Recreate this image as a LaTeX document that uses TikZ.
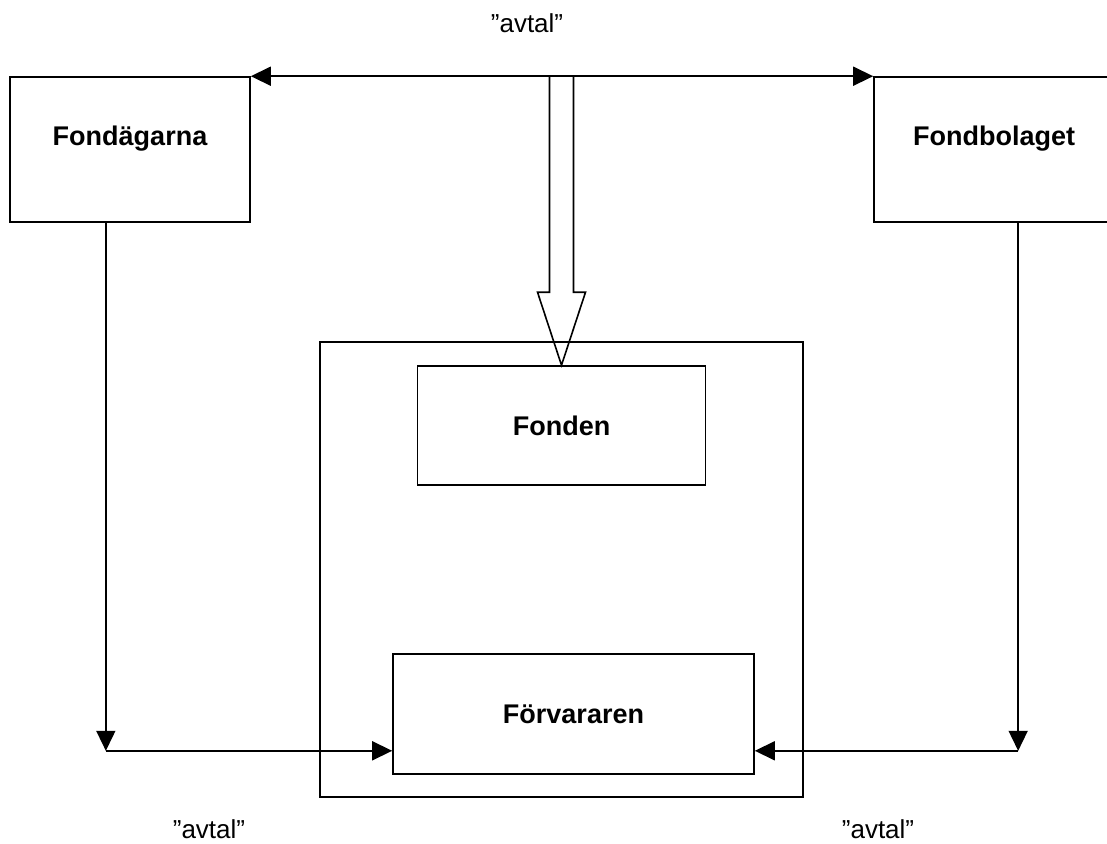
\documentclass[tikz,border=0pt]{standalone}
\usepackage{fontspec}
\setmainfont{Liberation Sans}
\usetikzlibrary{arrows.meta,calc}

\begin{document}
\begin{tikzpicture}[x=1pt,y=-1pt,line width=1.6pt]
\tikzstyle{every node}=[font=\fontsize{26}{30}\selectfont]
\tikzstyle{box}=[draw,inner sep=0pt,text height=19pt,text depth=0pt,font=\fontsize{27}{31}\selectfont\bfseries]
\tikzstyle{topbox}=[box,text depth=28pt,minimum width=240,minimum height=145]
\tikzstyle{tip}=[-{Triangle[length=20pt,width=19pt]}]

\useasboundingbox (0,0) rectangle (1107,843);
\clip (0,0) rectangle (1107,843);

\node[topbox] (Fondagarna) at (130,149.5) {Fondägarna};
\node[topbox] (Fondbolaget) at (994,149.5) {Fondbolaget};
\node[draw,minimum width=483,minimum height=455] (Ram) at (561.5,569.5) {};
\node[box,minimum width=288,minimum height=119] (Fonden) at (561.5,425.5) {Fonden};
\node[box,minimum width=361,minimum height=120] (Forvararen) at (573.5,714) {Förvararen};

\coordinate (VansterUt) at ($(Fondagarna.south west)!.4!(Fondagarna.south east)$);
\coordinate (HogerUt) at ($(Fondbolaget.south west)!.6!(Fondbolaget.south east)$);
\coordinate (VansterHorn) at ($(VansterUt)+(0,528)$);
\coordinate (HogerHorn) at ($(HogerUt)+(0,528)$);

\draw[{Triangle[length=20pt,width=19pt]}-{Triangle[length=20pt,width=19pt]}] (Fondagarna.north east) -- (Fondbolaget.north west);
\draw ($(Fonden.north)+(-12,-289)$) -- ++(0,216) -- ++(-12,0) -- (Fonden.north) -- ++(24,-73) -- ++(-12,0) -- ++(0,-216);

\draw[tip] (VansterUt) -- (VansterHorn);
\draw[tip] (VansterHorn) -- (VansterHorn -| Forvararen.west);
\draw[tip] (HogerUt) -- (HogerHorn);
\draw[tip] (HogerHorn) -- (HogerHorn -| Forvararen.east);

\node[anchor=base] (AvtalTopp) at (527,33) {”avtal”};
\node[anchor=base] (AvtalVanster) at (209,838) {”avtal”};
\node[anchor=base] (AvtalHoger) at (878,838) {”avtal”};
\end{tikzpicture}
\end{document}
